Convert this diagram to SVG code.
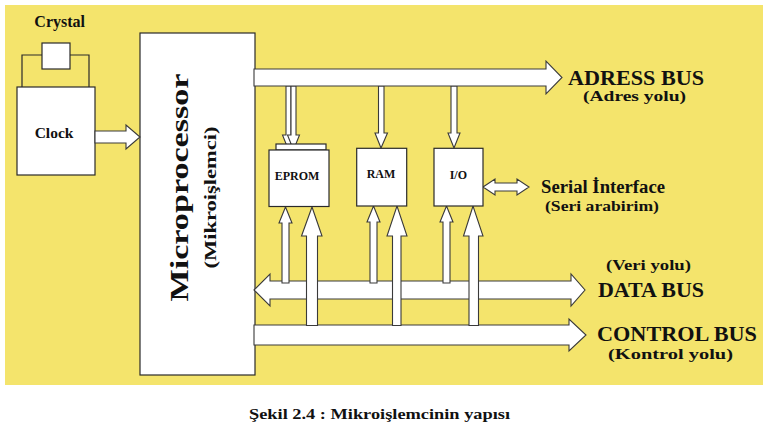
<svg xmlns="http://www.w3.org/2000/svg" width="774" height="435" viewBox="0 0 774 435">
<style>
.bx{fill:#fff;stroke:#2a2a2a;stroke-width:1.2}
.ar{fill:#fff;stroke:#3a3a3a;stroke-width:1.1;stroke-linejoin:miter}
.wire{fill:none;stroke:#2a2a2a;stroke-width:1.2}
text{font-family:'Liberation Serif','Times New Roman',serif;font-weight:700;fill:#111}
.c{text-anchor:middle}
</style>
<rect x="0" y="0" width="774" height="435" fill="#fff"/>
<rect x="5" y="5" width="758" height="380" fill="#F4E46C"/>

<g id="crystal">
<polyline class="wire" points="22,87 22,55 42,55"/>
<polyline class="wire" points="70,55 89,55 89,87"/>
<rect class="bx" x="42" y="43" width="28" height="26"/>
<text class="c" x="59.7" y="27" font-size="16" font-family="Liberation Serif">Crystal</text>
</g>
<g id="clock">
<rect class="bx" x="17" y="87" width="78" height="88"/>
<text class="c" x="54" y="138" font-size="15.5" font-family="Liberation Serif">Clock</text>
</g>
<g id="microprocessor">
<rect class="bx" x="140" y="33" width="115" height="342"/>
<text class="c" transform="translate(187.5,187.5) rotate(-90)" font-size="26" font-family="Liberation Serif" textLength="228" lengthAdjust="spacingAndGlyphs">Microprocessor</text>
<text class="c" transform="translate(215.5,197.5) rotate(-90)" font-size="16.5" font-family="Liberation Serif" textLength="142" lengthAdjust="spacingAndGlyphs">(Mikroişlemci)</text>
</g>

<g id="connectors">
<polygon class="ar" points="95,131 126,131 126,125 140,137 126,149 126,143 95,143"/>
<polygon class="ar" points="286,86 291,86 291,135 294.5,135 288.5,150 282.5,135 286,135"/>
<polygon class="ar" points="291,86 296,86 296,135 299.5,135 293.5,150 287.5,135 291,135"/>
<polygon class="ar" points="378.5,86 384,86 384,133 387.5,133 381,148 375,133 378.5,133"/>
<polygon class="ar" points="451,86 457,86 457,133 460,133 454,148 448,133 451,133"/>
<polygon class="ar" points="254,69 546,69 546,61 562,77.5 546,94 546,86 254,86"/>
<polygon class="ar" points="483,187 495,179 495,183 517,183 517,179 529,187 517,195 517,191 495,191 495,195"/>
<polygon class="ar" points="254,325 569,325 569,319 586,335 569,351 569,345 254,345"/>
<polygon class="ar" points="254,290 270,274 270,281 571,281 571,274 585,290 571,306 571,299 270,299 270,306"/>
<polygon class="ar" points="282,283 282,223 279,223 285.5,207 292,223 289,223 289,283"/>
<polygon class="ar" points="370,283 370,222 367,222 373.5,206 380,222 377,222 377,283"/>
<polygon class="ar" points="443,283 443,222 440,222 446.5,206 453,222 450,222 450,283"/>
<polygon class="ar" points="306.5,325.5 306.5,236 301.5,236 312,207 322,236 317.5,236 317.5,325.5"/>
<polygon class="ar" points="392.5,325.5 392.5,236 387,236 397,206 407,236 401,236 401,325.5"/>
<polygon class="ar" points="469,325.5 469,236 463.5,236 473,206 483,236 478.5,236 478.5,325.5"/>
</g>

<g id="eprom">
<rect class="bx" x="276" y="144" width="50" height="6"/>
<rect class="bx" x="269" y="150" width="60" height="56.5"/>
<text class="c" x="297" y="179.5" font-size="12" font-family="Liberation Serif">EPROM</text>
</g>
<g id="ram">
<rect class="bx" x="356.7" y="148.3" width="50" height="57.7"/>
<text class="c" x="381" y="178" font-size="12" font-family="Liberation Serif">RAM</text>
</g>
<g id="io">
<rect class="bx" x="434" y="148.3" width="49" height="57.7"/>
<text class="c" x="458.3" y="179" font-size="12" font-family="Liberation Serif">I/O</text>
</g>

<g id="labels" font-family="Liberation Serif">
<text x="568" y="84.5" font-size="20" textLength="136" lengthAdjust="spacingAndGlyphs">ADRESS BUS</text>
<text x="583" y="100.5" font-size="14" textLength="103" lengthAdjust="spacingAndGlyphs">(Adres yolu)</text>
<text x="541" y="192.5" font-size="18.5" textLength="124" lengthAdjust="spacingAndGlyphs">Serial İnterface</text>
<text x="545" y="210.5" font-size="15" textLength="114" lengthAdjust="spacingAndGlyphs">(Seri arabirim)</text>
<text x="606" y="270" font-size="14.5" textLength="85" lengthAdjust="spacingAndGlyphs">(Veri yolu)</text>
<text x="598" y="297" font-size="20" textLength="106" lengthAdjust="spacingAndGlyphs">DATA BUS</text>
<text x="597" y="341" font-size="20" textLength="160" lengthAdjust="spacingAndGlyphs">CONTROL BUS</text>
<text x="608" y="358.5" font-size="14.5" textLength="125" lengthAdjust="spacingAndGlyphs">(Kontrol yolu)</text>
</g>
<text x="249" y="418.5" font-size="15" font-family="Liberation Serif" textLength="261" lengthAdjust="spacingAndGlyphs">Şekil 2.4 : Mikroişlemcinin yapısı</text>
</svg>
